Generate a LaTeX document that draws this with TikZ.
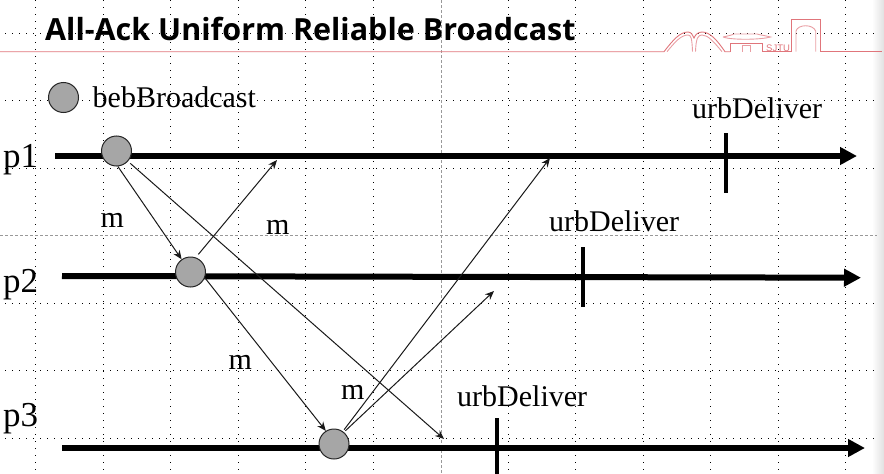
\documentclass[tikz,border=0pt]{standalone}
\usepackage{fontspec}
\setmainfont{Liberation Serif}
\newfontfamily\titlefont{Open Sans}
\newfontfamily\logofont{Liberation Sans}
\usetikzlibrary{arrows.meta}
\definecolor{logopink}{HTML}{E0757B}
\tikzset{
  griddots/.style={black,line width=1pt,dash pattern=on 1pt off 6pt},
  guide/.style={gray!80,line width=0.8pt,dash pattern=on 3pt off 2pt},
  axisline/.style={line width=6pt,-{Triangle[length=17pt,width=17pt]}},
  tickmark/.style={line width=4pt},
  msg/.style={black!90,line width=1pt,-{Stealth[length=9pt,width=7.5pt]}},
  event/.style={circle,draw=black!85,line width=1pt,fill=black!35,minimum size=30pt,inner sep=0pt},
  lab/.style={anchor=base west,inner sep=0pt,text=black},
  big/.style={lab,font=\fontsize{30pt}{32pt}\selectfont},
  proc/.style={lab,font=\fontsize{35pt}{37pt}\selectfont},
  msgl/.style={lab,font=\fontsize{30pt}{32pt}\selectfont},
  logo/.style={logopink,line width=0.9pt},
  logolight/.style={logopink!70,line width=0.9pt},
}
\begin{document}
\begin{tikzpicture}[x=1pt,y=-1pt]
\useasboundingbox (0,0) rectangle (884,474);
% edge shading
\fill[left color=white,right color=black!12] (872,0) rectangle (884,474);
% guides
\foreach \x in {35.5,103,170.5,238,305.5,373,508.5,575.5,643,710,778,845}
  \draw[griddots] (\x,0) -- (\x,474);
\foreach \y in {33,100,168,303,370,438}
  \draw[griddots] (5,\y) -- (877,\y);
\draw[guide] (0,235.5) -- (877,235.5);
\draw[guide] (441,0) -- (441,474);
% header line and logo
\draw[logo] (0,51.7) -- (664,51.7) .. controls (673,40) and (680,32) .. (688,32)
  .. controls (691,32) and (693,35) .. (694,38) .. controls (695,35) and (698,32) .. (702,32)
  .. controls (710,32) and (717,40) .. (725,51.7) -- (730,51.7);
\draw[logolight] (667,51.7) .. controls (675,42) and (681,35) .. (688,35)
  .. controls (691,35) and (692,38) .. (692.5,51.7);
\draw[logolight] (722,51.7) .. controls (714,42) and (708,35) .. (702,35)
  .. controls (698,35) and (696,38) .. (695.5,51.7);
\draw[logo] (730,51.7) -- (730,43) -- (762.7,43) -- (762.7,51.7) -- (791.7,51.7)
  -- (791.7,19) -- (820.3,19) -- (820.3,51.7) -- (882,51.7);
\draw[logolight] (723,37) .. controls (730,40) and (760,40) .. (770.5,37)
  .. controls (765,35.5) and (760,35) .. (757,34) -- (734,34) .. controls (732,35) and (728,36) .. (723,37);
\draw[logolight] (742.7,51.7) -- (742.7,45) -- (750,45) -- (750,51.7);
\draw[logolight] (796,51.7) -- (796,31) .. controls (798,24) and (813,24) .. (815.7,31) -- (815.7,51.7);
\node[anchor=base west,inner sep=0pt,text=logopink,font=\logofont\fontsize{9.5pt}{10pt}\selectfont] (sjtu) at (766,51) {SJTU};
% title
\node[lab,font=\titlefont\bfseries\fontsize{30.5pt}{32pt}\selectfont] (title) at (45,40.7) {All-Ack Uniform Reliable Broadcast};
% process axes
\coordinate (a1s) at (55,156);   \coordinate (a1e) at (857,156);
\coordinate (a2s) at (62,276);   \coordinate (a2e) at (861,277.7);
\coordinate (a3s) at (62,448);   \coordinate (a3e) at (865,448);
\draw[axisline] (a1s) -- (a1e);
\draw[axisline] (a2s) -- (a2e);
\draw[axisline] (a3s) -- (a3e);
% delivery ticks
\coordinate (t1a) at (726,133);  \coordinate (t1b) at (726,193);
\coordinate (t2a) at (583,247);  \coordinate (t2b) at (583,307);
\coordinate (t3a) at (497,418);  \coordinate (t3b) at (497,474);
\draw[tickmark] (t1a) -- (t1b);
\draw[tickmark] (t2a) -- (t2b);
\draw[tickmark] (t3a) -- (t3b);
% events
\node[event] (leg) at (63.5,97.5) {};
\node[event] (c1) at (116.5,151) {};
\node[event] (c2) at (190.5,272) {};
\node[event] (c3) at (334,444) {};
% free ends of messages
\coordinate (e1) at (277,160);
\coordinate (e2) at (444,439);
\coordinate (e3) at (550,158);
\coordinate (e4) at (494,291);
% messages
\draw[msg] (c1.-85) -- (c2.125);
\draw[msg,shorten <=3pt] (c1.-42) -- (e2);
\draw[msg,shorten <=4pt] (c2.70) -- (e1);
\draw[msg] (c2.-22) -- (c3.122);
\draw[msg,shorten <=2pt] (c3.55) -- (e3);
\draw[msg,shorten <=2pt] (c3.50) -- (e4);
% labels
\node[big] (lbb) at (92.5,107) {bebBroadcast};
\node[big] (u1) at (692,118.3) {urbDeliver};
\node[big] (u2) at (549,231.7) {urbDeliver};
\node[big] (u3) at (457,406.3) {urbDeliver};
\node[proc] (p1) at (3,167) {p1};
\node[proc] (p2) at (3,292) {p2};
\node[proc] (p3) at (3,426) {p3};
\node[msgl] (m1) at (100.5,227.5) {m};
\node[msgl] (m2) at (266,234) {m};
\node[msgl] (m3) at (228.5,369.5) {m};
\node[msgl] (m4) at (341,399.5) {m};
\end{tikzpicture}
\end{document}
